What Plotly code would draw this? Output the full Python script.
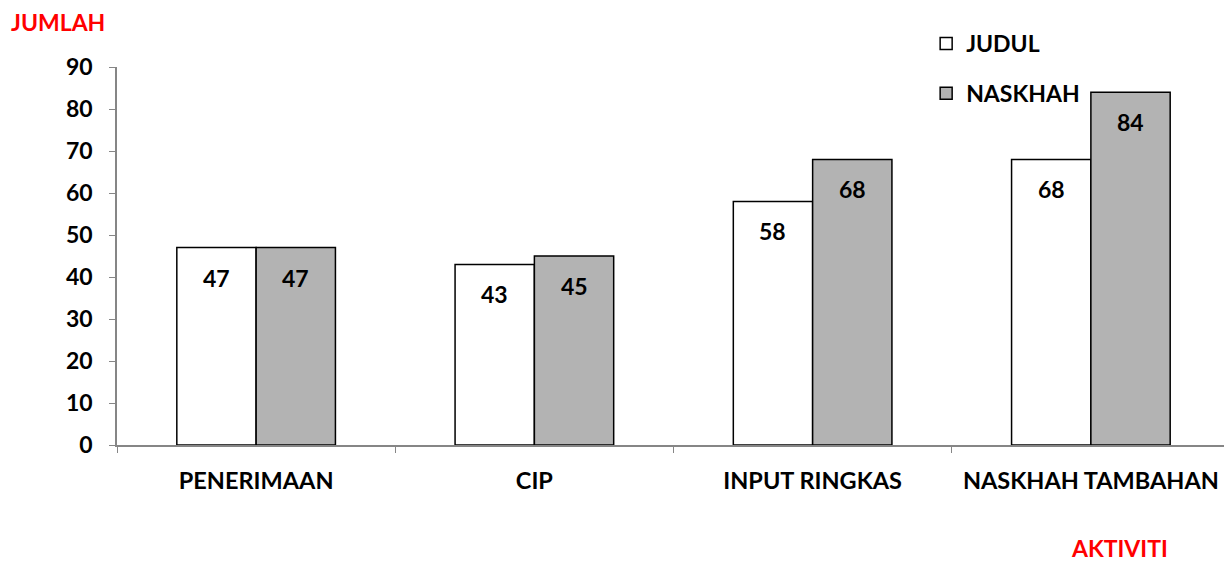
import plotly.graph_objects as go

categories = ["PENERIMAAN", "CIP", "INPUT RINGKAS", "NASKHAH TAMBAHAN"]
judul = [47, 43, 58, 68]
naskhah = [47, 45, 68, 84]
y_ticks = [0, 10, 20, 30, 40, 50, 60, 70, 80, 90]

FONT = "Lato"
BARGAP = 0.43
half = (1 - BARGAP) / 4  # offset of each bar centre from category centre

fig = go.Figure()
fig.add_trace(go.Bar(
    name="JUDUL", x=categories, y=judul,
    marker=dict(color="white", line=dict(color="black", width=1.5)),
    legendgroup="a",
))
fig.add_trace(go.Bar(
    name="NASKHAH", x=categories, y=naskhah,
    marker=dict(color="#b3b3b3", line=dict(color="black", width=1.5)),
    legendgroup="b",
))

annotations = []
for i, (a, b) in enumerate(zip(judul, naskhah)):
    for xo, v in ((i - half, a), (i + half, b)):
        annotations.append(dict(
            x=xo, y=v, xref="x", yref="y", text=str(v), showarrow=False,
            yanchor="middle", yshift=-30,
            font=dict(family=FONT, size=23, color="black", weight="bold"),
        ))
annotations += [
    dict(text="JUMLAH", xref="paper", yref="paper", x=-0.097, y=1.119,
         xanchor="left", yanchor="middle", showarrow=False,
         font=dict(family=FONT, size=23, color="red", weight="bold")),
    dict(text="AKTIVITI", xref="paper", yref="paper", x=0.901, y=-0.272,
         xanchor="center", yanchor="middle", showarrow=False,
         font=dict(family=FONT, size=23, color="red", weight="bold")),
]

fig.update_layout(
    width=1224, height=553,
    margin=dict(l=109, r=2, t=59, b=116),
    paper_bgcolor="white", plot_bgcolor="white",
    barmode="group", bargap=BARGAP, bargroupgap=0,
    font=dict(family=FONT, color="black"),
    showlegend=True,
    legend=dict(
        x=0.727, y=1.119, xanchor="left", yanchor="top",
        traceorder="grouped", tracegroupgap=17,
        font=dict(family=FONT, size=23, color="black", weight="bold"),
        itemwidth=30, bgcolor="rgba(0,0,0,0)",
    ),
    xaxis=dict(
        type="category", tickson="boundaries", ticks="outside", ticklen=6,
        tickcolor="#868686", showline=True, linecolor="#868686", linewidth=1.5,
        showgrid=False, tickfont=dict(family=FONT, size=23.5, color="black", weight="bold"),
        ticklabelstandoff=14,
    ),
    yaxis=dict(
        range=[0, 90], tickvals=y_ticks, ticks="outside", ticklen=6,
        tickcolor="#868686", showline=True, linecolor="#868686", linewidth=1.5,
        showgrid=False, zeroline=False,
        tickfont=dict(family=FONT, size=23, color="black", weight="bold"),
        ticklabelstandoff=12,
    ),
    annotations=annotations,
)

fig.write_html("out.html")
